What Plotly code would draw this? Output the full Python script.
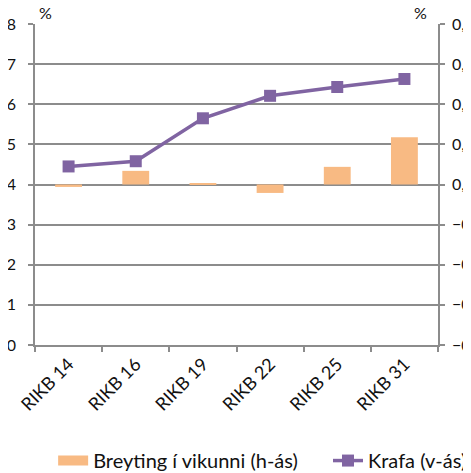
import plotly.graph_objects as go

categories = ["RIKB 14", "RIKB 16", "RIKB 19", "RIKB 22", "RIKB 25", "RIKB 31"]
krafa = [4.45, 4.58, 5.65, 6.21, 6.43, 6.63]          # left axis, %
breyting = [-0.006, 0.034, 0.003, -0.021, 0.044, 0.118]  # right axis, %

left_ticks = list(range(0, 9))
right_ticks = [-0.4, -0.3, -0.2, -0.1, 0.0, 0.1, 0.2, 0.3, 0.4]

FONT = "Lato, 'Open Sans', sans-serif"
GRID = "#8c8c8c"
BAR = "#F8BA83"
LINE = "#8064A2"

fig = go.Figure()
fig.add_trace(go.Bar(
    x=categories, y=breyting, name="Breyting í vikunni (h-ás)",
    marker=dict(color=BAR, line=dict(width=0)), width=0.4, yaxis="y",
    showlegend=False,
))
# legend entry drawn as a wide block, like the original
fig.add_trace(go.Scatter(
    x=[None], y=[None], name="Breyting í vikunni (h-ás)", mode="lines",
    line=dict(color=BAR, width=15), yaxis="y", legend="legend",
))
fig.add_trace(go.Scatter(
    x=categories, y=krafa, name="Krafa (v-ás)", mode="lines+markers",
    line=dict(color=LINE, width=3.5),
    marker=dict(symbol="square", size=12, color=LINE),
    yaxis="y2", legend="legend2",
))

axis_common = dict(
    ticks="outside", ticklen=5, tickcolor=GRID, tickwidth=1.5,
    showline=True, linecolor=GRID, linewidth=1.5, automargin=False,
    ticklabeloverflow="allow",
)

legend_common = dict(orientation="h", y=-0.36, yanchor="middle",
                     xanchor="left", font=dict(size=20),
                     bgcolor="rgba(0,0,0,0)")

fig.update_layout(
    width=463, height=465,
    margin=dict(l=27, r=33, t=16, b=128, autoexpand=False),
    paper_bgcolor="white", plot_bgcolor="white",
    font=dict(family=FONT, size=16, color="#111111"),
    showlegend=True,
    legend=dict(x=0.045, **legend_common),
    legend2=dict(x=0.727, **legend_common),
    xaxis=dict(
        type="category", tickangle=-45, tickson="boundaries",
        showgrid=False, tickfont=dict(size=18), **axis_common,
    ),
    yaxis=dict(
        side="right", range=[-0.4, 0.4], tickvals=right_ticks,
        tickformat=".2f", showgrid=False, zeroline=False,
        ticklabelstandoff=4, **axis_common,
    ),
    yaxis2=dict(
        side="left", overlaying="y", range=[0, 8], tickvals=left_ticks,
        showgrid=True, gridcolor=GRID, gridwidth=1.5, zeroline=False,
        ticklabelstandoff=9, **axis_common,
    ),
    separators=",.",
    annotations=[
        dict(text="%", x=0.005, y=1.0, xref="paper", yref="paper",
             xanchor="left", yanchor="bottom", showarrow=False, font=dict(size=16)),
        dict(text="%", x=0.935, y=1.0, xref="paper", yref="paper",
             xanchor="left", yanchor="bottom", showarrow=False, font=dict(size=16)),
    ],
)

fig.write_html("out.html")
